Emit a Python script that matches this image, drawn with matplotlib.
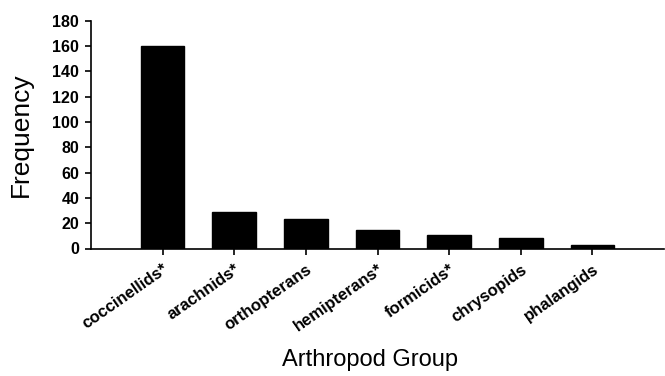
import matplotlib
matplotlib.use("Agg")
import matplotlib.pyplot as plt
from matplotlib.transforms import ScaledTranslation

categories = ["coccinellids*", "arachnids*", "orthopterans", "hemipterans*",
              "formicids*", "chrysopids", "phalangids"]
frequency = [160, 29, 23, 15, 11, 8, 3]
y_ticks = [0, 20, 40, 60, 80, 100, 120, 140, 160, 180]

plt.rcParams['font.family'] = ['Liberation Sans', 'DejaVu Sans']

W, H = 665, 376
fig = plt.figure(figsize=(W / 100, H / 100), dpi=100)
left, right, bottom, top = 91, 664, 248.5, 20.8
ax = fig.add_axes([left / W, 1 - bottom / H, (right - left) / W, (bottom - top) / H])

x = list(range(len(categories)))
ax.bar(x, frequency, width=0.61, color="black", edgecolor="black")

ax.set_xlim(-1.0, 7.0)
ax.set_ylim(0, 180)
ax.set_yticks(y_ticks)
ax.set_yticklabels([str(t) for t in y_ticks], fontsize=11.5, fontweight="bold")
ax.set_xticks(x)
ax.set_xticklabels(categories, rotation=35, ha="right", va="top",
                   rotation_mode="anchor", fontsize=12, fontweight="bold")

# shift the slanted category labels slightly left of their ticks
shift = ScaledTranslation(-7 / 72, 0, fig.dpi_scale_trans)
for lbl in ax.get_xticklabels():
    lbl.set_transform(lbl.get_transform() + shift)

ax.spines["top"].set_visible(False)
ax.spines["right"].set_visible(False)
for s in ("left", "bottom"):
    ax.spines[s].set_linewidth(1.2)
ax.tick_params(axis="both", direction="out", length=4.5, width=1.2, colors="black")
ax.tick_params(axis="y", pad=4)
ax.tick_params(axis="x", pad=5)

ax.set_ylabel("Frequency", fontsize=19)
ax.yaxis.set_label_coords((33 - left) / (right - left), 0.5)
ax.set_xlabel("Arthropod Group", fontsize=17)
ax.xaxis.set_label_coords((370 - left) / (right - left), -(366 - bottom) / (bottom - top))
ax.xaxis.label.set_va("baseline")

fig.savefig("out.png", dpi=100)
